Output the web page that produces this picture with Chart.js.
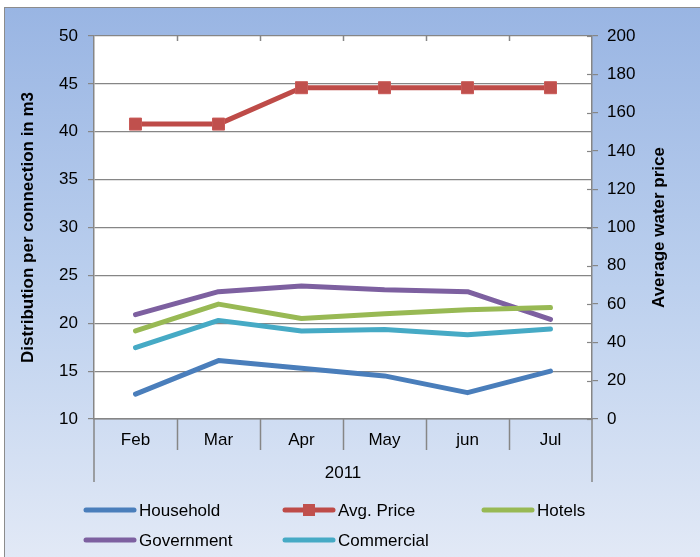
<!DOCTYPE html>
<html>
<head>
<meta charset="utf-8">
<script src="https://cdn.jsdelivr.net/npm/chart.js@4.4.0/dist/chart.umd.min.js"></script>
<style>
  body { margin: 0; width: 700px; height: 557px; overflow: hidden; position: relative; background: #fff; }
  #frame { position: absolute; left: 4px; top: 7px; width: 720px; height: 580px;
           border: 1px solid #8c8c8c;
           background: linear-gradient(to bottom, #99b5e3 0px, #bcd0ee 280px, #e2e9f6 550px); }
  #wrap { position: absolute; left: 0; top: 0; width: 700px; height: 557px; }
</style>
</head>
<body>
<div id="frame"></div>
<div id="wrap"><canvas id="waterChart" width="700" height="557"></canvas></div>
<script>
const months = ['Feb', 'Mar', 'Apr', 'May', 'jun', 'Jul'];
const yearLabel = '2011';
const household = [12.6, 16.1, 15.3, 14.5, 12.75, 15.0];
const avgPrice = [154, 154, 173, 173, 173, 173];
const hotels = [19.2, 22.0, 20.5, 21.0, 21.4, 21.65];
const government = [20.9, 23.3, 23.9, 23.5, 23.3, 20.4];
const commercial = [17.45, 20.3, 19.2, 19.35, 18.8, 19.4];

const FONT = 'Liberation Sans, Arial, sans-serif';
const AXIS_GREY = '#868686';

function lineSet(label, data, color, axis) {
  return {
    label: label,
    data: data,
    borderColor: color,
    backgroundColor: color,
    borderWidth: 5,
    borderCapStyle: 'round',
    borderJoinStyle: 'round',
    pointRadius: 0,
    pointHoverRadius: 0,
    yAxisID: axis,
    tension: 0
  };
}

const priceSet = lineSet('Avg. Price', avgPrice, '#be4b48', 'y2');
priceSet.pointStyle = 'rect';
priceSet.pointRadius = 8.5;
priceSet.pointBackgroundColor = '#c0504d';
priceSet.pointBorderColor = '#c85a57';
priceSet.pointBorderWidth = 1;

const datasets = [
  lineSet('Household', household, '#4a7ebb', 'y'),
  priceSet,
  lineSet('Hotels', hotels, '#98b954', 'y'),
  lineSet('Government', government, '#7d60a0', 'y'),
  lineSet('Commercial', commercial, '#46aac5', 'y')
];

const decorPlugin = {
  id: 'decor',
  beforeDraw(chart) {
    const a = chart.chartArea, ctx = chart.ctx;
    ctx.save();
    ctx.fillStyle = '#ffffff';
    ctx.fillRect(a.left, a.top, a.right - a.left, a.bottom - a.top);
    ctx.restore();
  },
  afterDraw(chart) {
    const a = chart.chartArea, ctx = chart.ctx, x = chart.scales.x, y2 = chart.scales.y2;
    ctx.save();
    ctx.strokeStyle = AXIS_GREY;
    ctx.lineWidth = 1.5;
    // category separators and top marks
    for (let i = 0; i < months.length - 1; i++) {
      const bx = Math.round((x.getPixelForTick(i) + x.getPixelForTick(i + 1)) / 2) + 0.5;
      ctx.beginPath();
      ctx.moveTo(bx, a.bottom); ctx.lineTo(bx, a.bottom + 31);
      ctx.moveTo(bx, a.top); ctx.lineTo(bx, a.top + 5);
      ctx.stroke();
    }
    // right axis marks cross the axis line
    ctx.lineWidth = 1.2;
    y2.ticks.forEach((t, i) => {
      const py = Math.round(y2.getPixelForTick(i)) + 0.5;
      ctx.beginPath();
      ctx.moveTo(a.right - 5, py); ctx.lineTo(a.right, py);
      ctx.stroke();
    });
    ctx.lineWidth = 1.5;
    // outer group lines
    [a.left, a.right].forEach(px => {
      ctx.beginPath();
      ctx.moveTo(Math.round(px), a.bottom); ctx.lineTo(Math.round(px), a.bottom + 63);
      ctx.stroke();
    });
    // group label
    ctx.fillStyle = '#000';
    ctx.font = '17px ' + FONT;
    ctx.textAlign = 'center';
    ctx.textBaseline = 'middle';
    ctx.fillText(yearLabel, (a.left + a.right) / 2, a.bottom + 54);

    // axis titles
    const midY = (a.top + a.bottom) / 2;
    ctx.font = 'bold 17px ' + FONT;
    ctx.save();
    ctx.translate(28, midY);
    ctx.rotate(-Math.PI / 2);
    ctx.fillText('Distribution per connection in m3', 0, 0);
    ctx.restore();
    ctx.save();
    ctx.translate(659, midY);
    ctx.rotate(-Math.PI / 2);
    ctx.fillText('Average water price', 0, 0);
    ctx.restore();

    // legend
    const cols = [84, 283, 482], rows = [510, 540];
    ctx.font = '17px ' + FONT;
    ctx.textAlign = 'left';
    chart.data.datasets.forEach((ds, i) => {
      const lx = cols[i % 3], ly = rows[Math.floor(i / 3)];
      ctx.strokeStyle = ds.borderColor;
      ctx.lineWidth = 5;
      ctx.lineCap = 'round';
      ctx.beginPath();
      ctx.moveTo(lx + 2, ly); ctx.lineTo(lx + 50, ly);
      ctx.stroke();
      if (ds.pointStyle === 'rect') {
        ctx.fillStyle = ds.pointBackgroundColor;
        ctx.fillRect(lx + 20, ly - 6, 12, 12);
      }
      ctx.fillStyle = '#000';
      ctx.fillText(ds.label, lx + 55, ly + 1);
    });
    ctx.restore();
  }
};

const ctx = document.getElementById('waterChart');
new Chart(ctx, {
  type: 'line',
  data: { labels: months, datasets: datasets },
  options: {
    responsive: false,
    animation: false,
    layout: { padding: { top: 36 } },
    plugins: { legend: { display: false }, tooltip: { enabled: false } },
    scales: {
      x: {
        offset: true,
        grid: { display: true, drawOnChartArea: false, drawTicks: false, color: AXIS_GREY },
        border: { color: AXIS_GREY, width: 1.5 },
        ticks: { color: '#000', font: { family: FONT, size: 17 }, padding: 11 },
        afterFit(scale) { scale.height = 138; }
      },
      y: {
        position: 'left',
        min: 10, max: 50,
        ticks: { stepSize: 5, color: '#000', font: { family: FONT, size: 17 }, padding: 10 },
        grid: { color: AXIS_GREY, lineWidth: 1.2, tickLength: 6 },
        border: { color: AXIS_GREY, width: 1.5 },
        afterFit(scale) { scale.width = 94; }
      },
      y2: {
        position: 'right',
        min: 0, max: 200,
        ticks: { stepSize: 20, color: '#000', font: { family: FONT, size: 17 }, padding: 9 },
        grid: { drawOnChartArea: false, color: AXIS_GREY, lineWidth: 1.2, tickLength: 6 },
        border: { color: AXIS_GREY, width: 1.5 },
        afterFit(scale) { scale.width = 108; }
      }
    }
  },
  plugins: [decorPlugin]
});
</script>
</body>
</html>
